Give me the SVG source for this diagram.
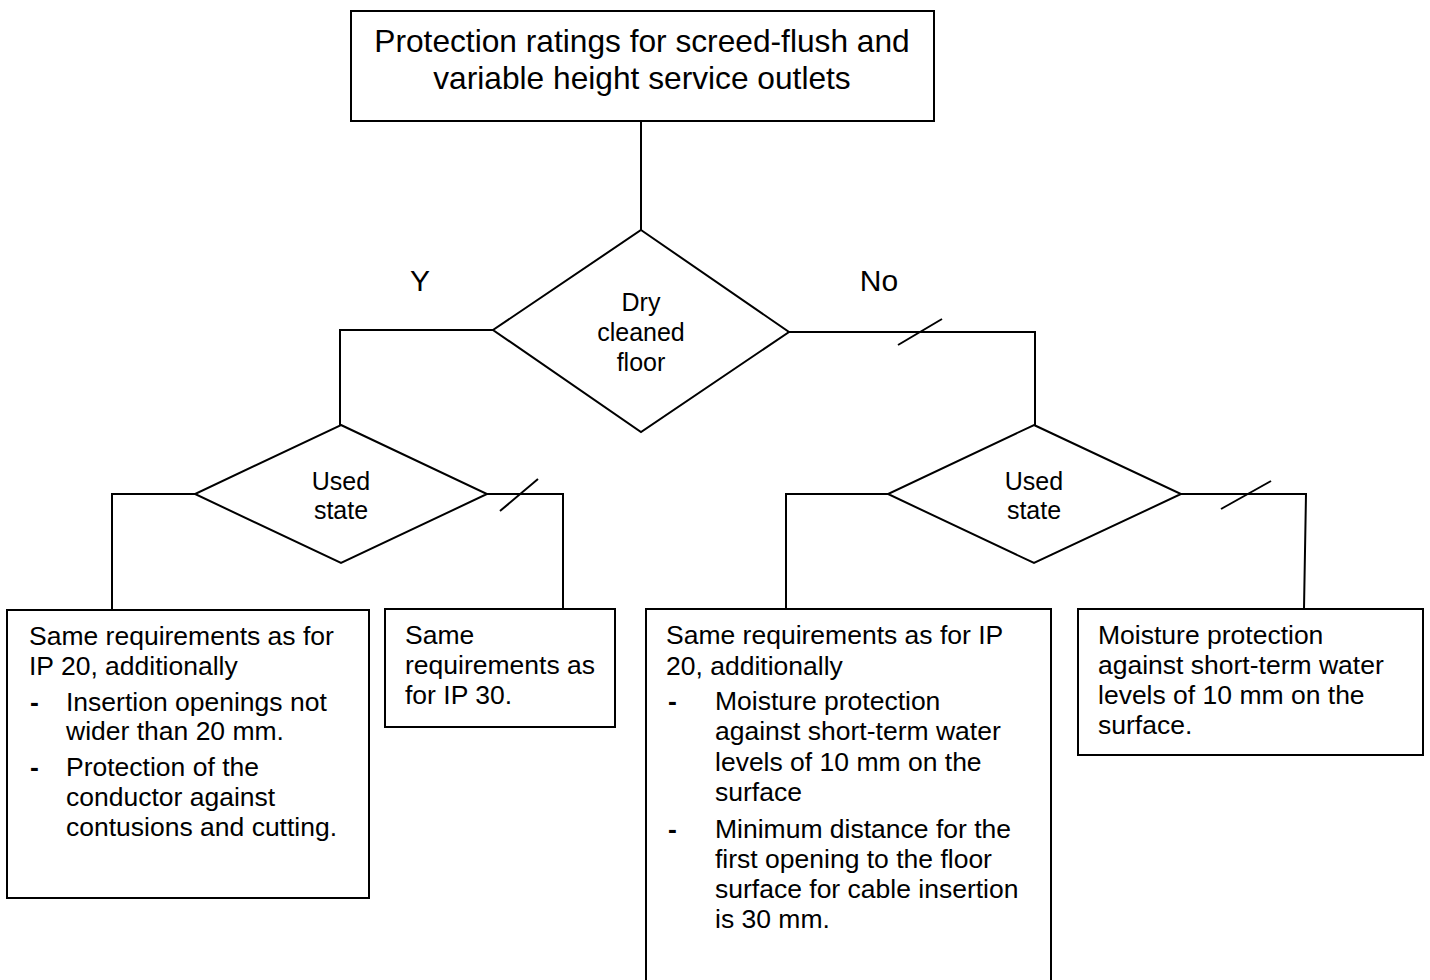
<svg xmlns="http://www.w3.org/2000/svg" width="1430" height="980" viewBox="0 0 1430 980">
<style>
  .shape { fill: #ffffff; stroke: #000000; stroke-width: 2; }
  .conn { fill: none; stroke: #000000; stroke-width: 2; }
  text { font-family: "Liberation Sans", Arial, sans-serif; fill: #000000; }
  .title { font-size: 31.7px; text-anchor: middle; }
  .dec { font-size: 25px; text-anchor: middle; }
  .lbl { font-size: 30px; text-anchor: middle; }
  .body { font-size: 26.5px; }
  .bul { font-size: 26.5px; font-weight: bold; }
</style>
<rect width="1430" height="980" fill="#ffffff"/>

<g id="connectors">
  <path class="conn" d="M641 121 V230"/>
  <path class="conn" d="M493 330 H340 V425"/>
  <path class="conn" d="M789 332 H1035 V425"/>
  <path class="conn" d="M898 345 L942 319"/>
  <path class="conn" d="M195 494 H112 V610"/>
  <path class="conn" d="M487 494 H563 V609"/>
  <path class="conn" d="M500 511 L538 479"/>
  <path class="conn" d="M888 494 H786 V609"/>
  <path class="conn" d="M1181 494 H1306 L1304 609"/>
  <path class="conn" d="M1221 509 L1271 481"/>
  <text class="lbl" x="420" y="291">Y</text>
  <text class="lbl" x="879" y="291">No</text>
</g>

<g id="title">
  <rect class="shape" x="351" y="11" width="583" height="110"/>
  <text class="title" x="642" y="52">Protection ratings for screed-flush and</text>
  <text class="title" x="642" y="89">variable height service outlets</text>
</g>

<g id="dry-cleaned-floor">
  <polygon class="shape" points="641,230 789,332 641,432 493,330"/>
  <text class="dec" x="641" y="311">Dry</text>
  <text class="dec" x="641" y="341">cleaned</text>
  <text class="dec" x="641" y="371">floor</text>
</g>

<g id="used-state-left">
  <polygon class="shape" points="341,425 487,494 341,563 195,494"/>
  <text class="dec" x="341" y="490">Used</text>
  <text class="dec" x="341" y="519">state</text>
</g>

<g id="used-state-right">
  <polygon class="shape" points="1034,425 1181,494 1034,563 888,494"/>
  <text class="dec" x="1034" y="490">Used</text>
  <text class="dec" x="1034" y="519">state</text>
</g>

<g id="box-a">
  <rect class="shape" x="7" y="610" width="362" height="288"/>
  <text class="body" x="29" y="645">Same requirements as for</text>
  <text class="body" x="29" y="675">IP 20, additionally</text>
  <text class="bul" x="30" y="711">-</text>
  <text class="body" x="66" y="711">Insertion openings not</text>
  <text class="body" x="66" y="740">wider than 20 mm.</text>
  <text class="bul" x="30" y="776">-</text>
  <text class="body" x="66" y="776">Protection of the</text>
  <text class="body" x="66" y="806">conductor against</text>
  <text class="body" x="66" y="836">contusions and cutting.</text>
</g>

<g id="box-b">
  <rect class="shape" x="385" y="609" width="230" height="118"/>
  <text class="body" x="405" y="644">Same</text>
  <text class="body" x="405" y="674">requirements as</text>
  <text class="body" x="405" y="704">for IP 30.</text>
</g>

<g id="box-c">
  <rect class="shape" x="646" y="609" width="405" height="385"/>
  <text class="body" x="666" y="644">Same requirements as for IP</text>
  <text class="body" x="666" y="675">20, additionally</text>
  <text class="bul" x="668" y="710">-</text>
  <text class="body" x="715" y="710">Moisture protection</text>
  <text class="body" x="715" y="740">against short-term water</text>
  <text class="body" x="715" y="771">levels of 10 mm on the</text>
  <text class="body" x="715" y="801">surface</text>
  <text class="bul" x="668" y="838">-</text>
  <text class="body" x="715" y="838">Minimum distance for the</text>
  <text class="body" x="715" y="868">first opening to the floor</text>
  <text class="body" x="715" y="898">surface for cable insertion</text>
  <text class="body" x="715" y="928">is 30 mm.</text>
</g>

<g id="box-d">
  <rect class="shape" x="1078" y="609" width="345" height="146"/>
  <text class="body" x="1098" y="644">Moisture protection</text>
  <text class="body" x="1098" y="674">against short-term water</text>
  <text class="body" x="1098" y="704">levels of 10 mm on the</text>
  <text class="body" x="1098" y="734">surface.</text>
</g>
</svg>
